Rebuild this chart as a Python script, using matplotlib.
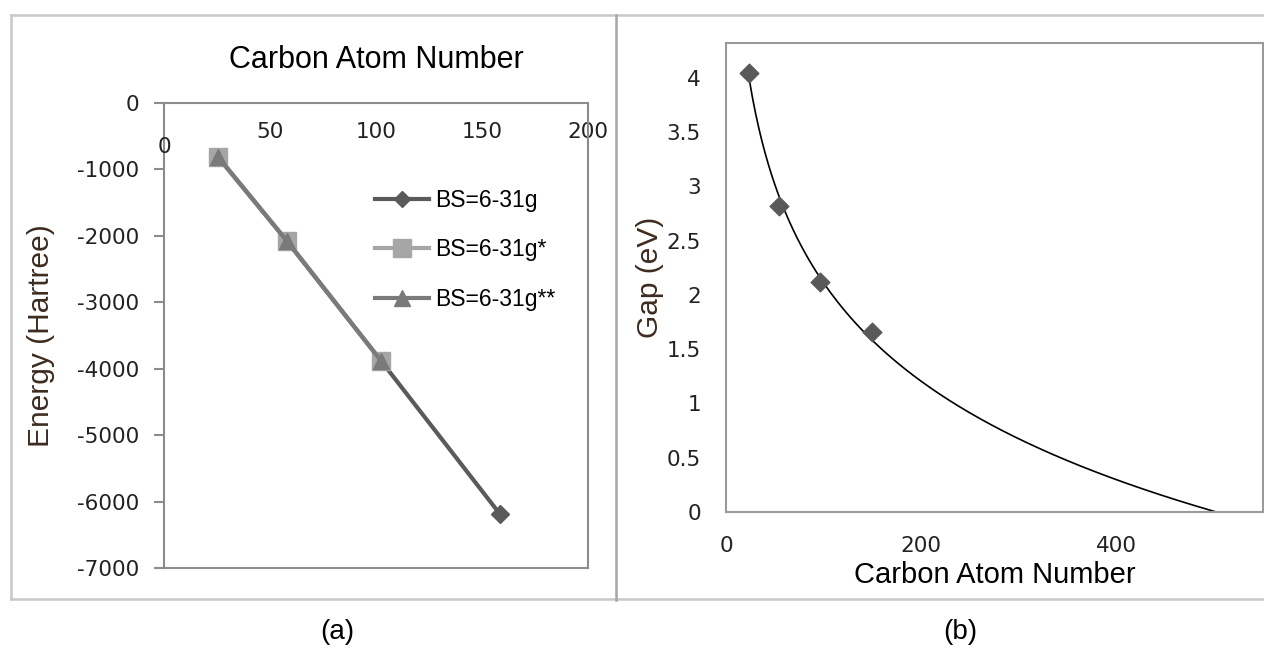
import matplotlib
matplotlib.use("Agg")
import matplotlib.pyplot as plt
import numpy as np
from matplotlib.lines import Line2D

# (a) total energy vs carbon atom number, three basis sets
carbon_a = [25.5, 58, 102.5, 158.5]
energy_631g = [-813, -2078, -3886, -6190]
carbon_a_star = [25.5, 58, 102.5]
energy_631g_s = [-813, -2078, -3886]
energy_631g_ss = [-813, -2078, -3886]
series_labels = ["BS=6-31g", "BS=6-31g*", "BS=6-31g**"]
energy_ticks = [0, -1000, -2000, -3000, -4000, -5000, -6000, -7000]
carbon_ticks_a = [50, 100, 150, 200]

# (b) HOMO-LUMO gap vs carbon atom number
carbon_b = [24, 54, 96, 150]
gap_ev = [4.04, 2.82, 2.12, 1.655]
gap_ticks = [0, 0.5, 1, 1.5, 2, 2.5, 3, 3.5, 4]
carbon_ticks_b = [0, 200, 400]

TICK_FONT = "DejaVu Sans"
TEXT_FONT = "Liberation Sans"
LABEL_COLOR = "#3d2b1f"
SPINE_COLOR = "#8c8c8c"

fig = plt.figure(figsize=(12.64, 6.48), dpi=100)
W, H = 1264, 648


def px_box(x0, y0, x1, y1):
    return [x0 / W, 1 - y1 / H, (x1 - x0) / W, (y1 - y0) / H]


# outer frame lines
for xs, ys, c in [
    ([11, 1264], [15, 15], "#c8c8c8"),
    ([11, 1264], [599, 599], "#c8c8c8"),
    ([11, 11], [15, 599], "#c8c8c8"),
    ([616, 616], [15, 600], "#a6a6a6"),
]:
    fig.add_artist(Line2D([x / W for x in xs], [1 - y / H for y in ys],
                          color=c, lw=1.8, transform=fig.transFigure))

# ---- panel (a)
ax1 = fig.add_axes(px_box(164, 103, 588, 568))
ax1.plot(carbon_a, energy_631g, color="#5a5a5a", lw=3, marker="D", ms=9,
         label=series_labels[0], zorder=3)
ax1.plot(carbon_a_star, energy_631g_s, color="#a6a6a6", lw=3, marker="s", ms=13,
         label=series_labels[1], zorder=4)
ax1.plot(carbon_a_star, energy_631g_ss, color="#7a7a7a", lw=3, marker="^", ms=12,
         label=series_labels[2], zorder=5)
ax1.set_xlim(0, 200)
ax1.set_ylim(-7000, 0)
ax1.set_yticks(energy_ticks)
ax1.set_yticklabels([str(v) for v in energy_ticks])
ax1.set_xticks(carbon_ticks_a)
ax1.set_xticklabels([str(v) for v in carbon_ticks_a])
ax1.spines["bottom"].set_position(("data", 0))
ax1.spines["top"].set_position(("data", -7000))
for sp in ax1.spines.values():
    sp.set_color(SPINE_COLOR)
    sp.set_linewidth(1.5)
ax1.tick_params(axis="y", length=7, width=1.5, color=SPINE_COLOR, pad=11,
                labelsize=15.5, labelcolor="#222222")
ax1.tick_params(axis="x", length=0, pad=14, labelsize=15.5, labelcolor="#222222")
for lbl in ax1.get_xticklabels() + ax1.get_yticklabels():
    lbl.set_fontfamily(TICK_FONT)
ax1.text(0, -663, "0", ha="center", va="center", fontsize=15.5,
         family=TICK_FONT, color="#222222")
ax1.set_title("Carbon Atom Number", fontsize=22, family=TEXT_FONT, pad=25)
ax1.set_ylabel("Energy (Hartree)", fontsize=21.5, family=TEXT_FONT,
               color=LABEL_COLOR, labelpad=15.5)
leg = ax1.legend(loc="upper left", bbox_to_anchor=(0.497, 0.815), frameon=False,
                 prop={"family": TEXT_FONT, "size": 16.5}, handlelength=2.35,
                 handletextpad=0.3, labelspacing=1.15, borderpad=0,
                 borderaxespad=0, markerscale=0.95)

# ---- panel (b)
ax2 = fig.add_axes(px_box(726, 43, 1263, 512))
ax2.scatter(carbon_b, gap_ev, marker="D", s=90, color="#595959", zorder=3)
coef = np.polyfit(np.log(carbon_b), gap_ev, 1)
x_end = np.exp(-coef[1] / coef[0])
xs = np.linspace(min(carbon_b), x_end, 300)
ax2.plot(xs, coef[0] * np.log(xs) + coef[1], color="black", lw=1.2, zorder=2)
ax2.set_xlim(0, 550)
ax2.set_ylim(0, 4.32)
ax2.set_yticks(gap_ticks)
ax2.set_yticklabels([f"{v:g}" for v in gap_ticks])
ax2.set_xticks(carbon_ticks_b)
ax2.set_xticklabels([str(v) for v in carbon_ticks_b])
for sp in ax2.spines.values():
    sp.set_color("#9a9a9a")
    sp.set_linewidth(1.5)
ax2.tick_params(axis="y", length=0, pad=18, labelsize=15.5, labelcolor="#222222")
ax2.tick_params(axis="x", length=0, pad=17, labelsize=15.5, labelcolor="#222222")
for lbl in ax2.get_xticklabels() + ax2.get_yticklabels():
    lbl.set_fontfamily(TICK_FONT)
ax2.set_xlabel("Carbon Atom Number", fontsize=21, family=TEXT_FONT, labelpad=4)
ax2.set_ylabel("Gap (eV)", fontsize=21.5, family=TEXT_FONT,
               color=LABEL_COLOR, labelpad=2)

fig.text(337 / W, 1 - 632 / H, "(a)", ha="center", va="center",
         fontsize=20, family=TEXT_FONT)
fig.text(960 / W, 1 - 632 / H, "(b)", ha="center", va="center",
         fontsize=20, family=TEXT_FONT)

fig.savefig("out.png", dpi=100)
